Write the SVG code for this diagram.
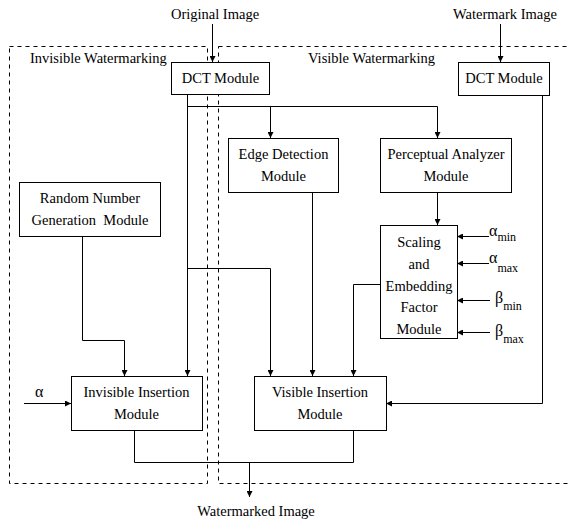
<svg xmlns="http://www.w3.org/2000/svg" width="569" height="520" viewBox="0 0 569 520">
<style>
text{font-family:'Liberation Serif','Times New Roman',serif;font-size:14.5px;fill:#000}
.m{text-anchor:middle}
.box{fill:#fff;stroke:#000;stroke-width:1}
.ln{fill:none;stroke:#000;stroke-width:1}
.ar{fill:none;stroke:#000;stroke-width:1;marker-end:url(#ah)}
.dash{fill:none;stroke:#000;stroke-width:1;stroke-dasharray:4 4}
.sub{font-size:12px}
.g{font-size:16px}
</style>
<defs>
<marker id="ah" viewBox="0 0 10 10" refX="10" refY="5" markerWidth="8" markerHeight="6" markerUnits="userSpaceOnUse" orient="auto">
<path d="M0,0 L10,5 L0,10 z" fill="#000"/>
</marker>
</defs>
<g id="regions">
<rect class="dash" x="9.5" y="46.5" width="198" height="437"/>
<text x="30" y="63">Invisible Watermarking</text>
<rect class="dash" x="218.5" y="46.5" width="360" height="437"/>
<text x="308" y="63">Visible Watermarking</text>
</g>
<g id="connectors">
<line class="ar" x1="212.5" y1="24" x2="212.5" y2="62"/>
<line class="ar" x1="500.5" y1="24" x2="500.5" y2="62"/>
<polyline class="ln" points="187.5,94 187.5,106.5 437.5,106.5"/>
<line class="ar" x1="270.5" y1="106.5" x2="270.5" y2="138"/>
<line class="ar" x1="437.5" y1="106.5" x2="437.5" y2="138"/>
<line class="ar" x1="187.5" y1="94" x2="187.5" y2="376"/>
<polyline class="ar" points="187.5,268.5 270.5,268.5 270.5,376"/>
<line class="ar" x1="312.5" y1="192" x2="312.5" y2="376"/>
<polyline class="ar" points="380,284.5 353.5,284.5 353.5,376"/>
<line class="ar" x1="437.5" y1="192" x2="437.5" y2="225"/>
<polyline class="ar" points="82.5,236 82.5,340.5 124.5,340.5 124.5,376"/>
<line class="ar" x1="24" y1="403.5" x2="71" y2="403.5"/>
<polyline class="ar" points="542.5,95 542.5,403.5 386,403.5"/>
<polyline class="ln" points="134.5,430 134.5,462.5 353.5,462.5 353.5,430"/>
<line class="ar" x1="249.5" y1="462.5" x2="249.5" y2="497"/>
<line class="ar" x1="489" y1="236.5" x2="457" y2="236.5"/>
<line class="ar" x1="489" y1="263.5" x2="457" y2="263.5"/>
<line class="ar" x1="490" y1="300.5" x2="457" y2="300.5"/>
<line class="ar" x1="490" y1="332.5" x2="457" y2="332.5"/>
</g>
<g id="labels">
<text class="m" x="215" y="19">Original Image</text>
<text class="m" x="505" y="19">Watermark Image</text>
<text class="m" x="256" y="516">Watermarked Image</text>
<text class="g" x="35" y="397">α</text>
<text x="489" y="236"><tspan class="g">α</tspan><tspan class="sub" dy="5">min</tspan></text>
<text x="489" y="263"><tspan class="g">α</tspan><tspan class="sub" dy="9">max</tspan></text>
<text x="495" y="303"><tspan class="g">β</tspan><tspan class="sub" dy="7">min</tspan></text>
<text x="495" y="336"><tspan class="g">β</tspan><tspan class="sub" dy="7">max</tspan></text>
</g>
<g id="dct-left">
<rect class="box" x="171.5" y="62.5" width="98" height="32"/>
<text class="m" x="220.5" y="83">DCT Module</text>
</g>
<g id="dct-right">
<rect class="box" x="458.5" y="62.5" width="91" height="33"/>
<text class="m" x="504" y="83">DCT Module</text>
</g>
<g id="edge-detection">
<rect class="box" x="228.5" y="138.5" width="110" height="54"/>
<text class="m" x="283.5" y="159">Edge Detection</text>
<text class="m" x="283.5" y="181">Module</text>
</g>
<g id="perceptual">
<rect class="box" x="380.5" y="138.5" width="131" height="54"/>
<text class="m" x="446" y="159">Perceptual Analyzer</text>
<text class="m" x="446" y="181">Module</text>
</g>
<g id="random">
<rect class="box" x="19.5" y="182.5" width="141" height="54"/>
<text class="m" x="90" y="203">Random Number</text>
<text class="m" x="90" y="225" xml:space="preserve">Generation  Module</text>
</g>
<g id="scaling">
<rect class="box" x="380.5" y="225.5" width="77" height="113"/>
<text class="m" x="419" y="247">Scaling</text>
<text class="m" x="419" y="269">and</text>
<text class="m" x="419" y="291">Embedding</text>
<text class="m" x="419" y="312">Factor</text>
<text class="m" x="419" y="334">Module</text>
</g>
<g id="invisible-insertion">
<rect class="box" x="71.5" y="376.5" width="131" height="54"/>
<text class="m" x="136.5" y="397">Invisible Insertion</text>
<text class="m" x="136.5" y="419">Module</text>
</g>
<g id="visible-insertion">
<rect class="box" x="254.5" y="376.5" width="132" height="54"/>
<text class="m" x="320" y="397">Visible Insertion</text>
<text class="m" x="320" y="419">Module</text>
</g>
</svg>
